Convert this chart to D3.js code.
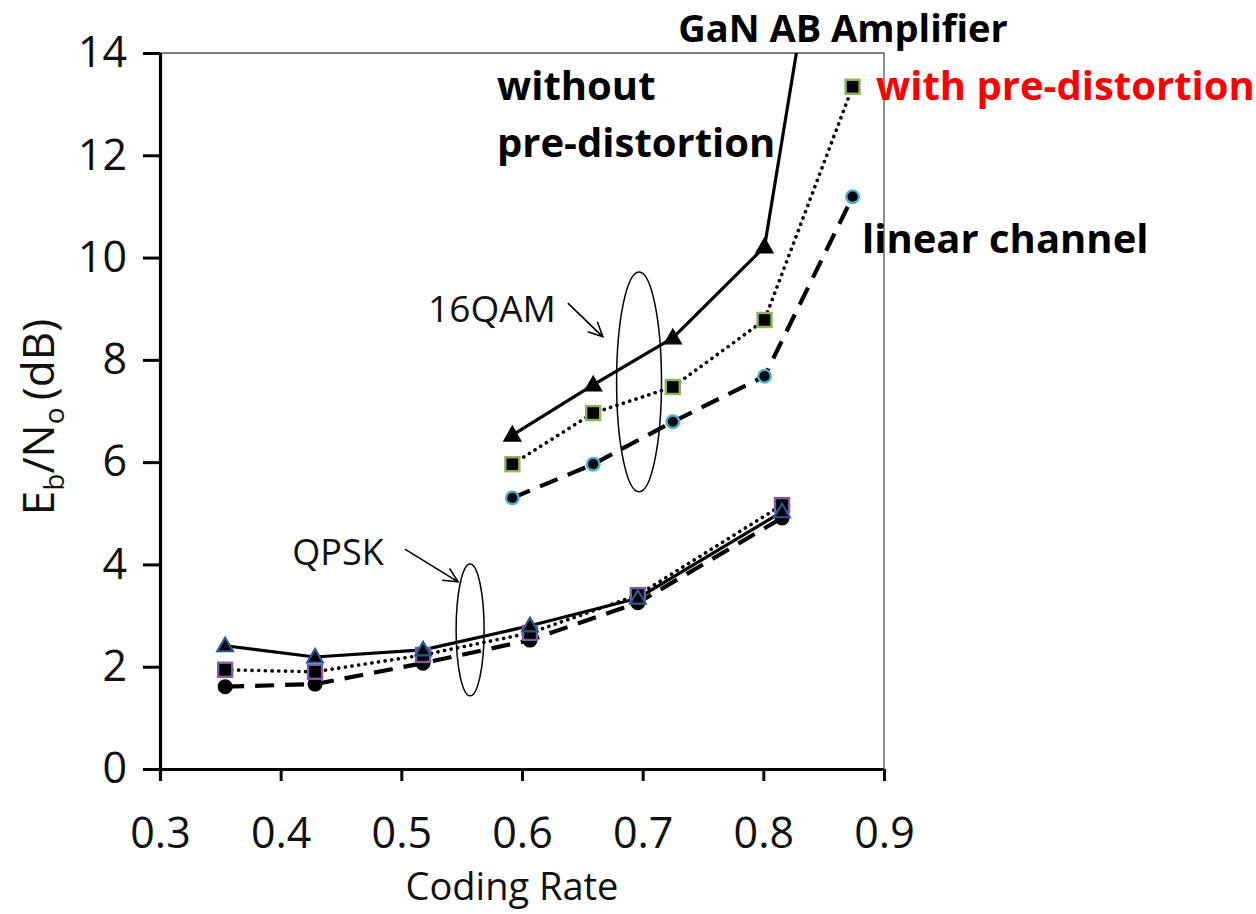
<!DOCTYPE html>
<html><head><meta charset="utf-8">
<script src="https://cdn.jsdelivr.net/npm/d3@7"></script>
<style>body{margin:0;background:#fff}svg{display:block}</style></head>
<body>
<svg id="c" width="1256" height="914"></svg>
<script>
// ---- data ----
const qamRate = [0.592, 0.659, 0.725, 0.801, 0.874];
const qamWithout = [6.53, 7.51, 8.43, 10.21, 20.7];
const qamWith = [5.96, 6.96, 7.47, 8.78, 13.34];
const qamLinear = [5.30, 5.96, 6.79, 7.68, 11.19];
const qpskRate = [0.354, 0.4285, 0.518, 0.6066, 0.696, 0.8155];
const qpskWithout = [2.41, 2.19, 2.33, 2.80, 3.34, 5.03];
const qpskWith = [1.94, 1.90, 2.23, 2.66, 3.40, 5.16];
const qpskLinear = [1.61, 1.66, 2.07, 2.52, 3.25, 4.91];
const xTicks = [0.3, 0.4, 0.5, 0.6, 0.7, 0.8, 0.9];
const yTicks = [0, 2, 4, 6, 8, 10, 12, 14];

const FONT = "'Open Sans', 'Liberation Sans', sans-serif";
const svg = d3.select("#c");
const L = 160, R = 884, T = 53, B = 769;
const x = d3.scaleLinear().domain([0.3, 0.9]).range([L, R]);
const y = d3.scaleLinear().domain([0, 14]).range([B, T]);

svg.append("defs").append("clipPath").attr("id", "clip")
  .append("rect").attr("x", L).attr("y", T).attr("width", R - L).attr("height", B - T);

// frame (thin top/right)
svg.append("path").attr("d", `M${L},${T}H${R}V${B}`).attr("fill", "none")
  .attr("stroke", "#555").attr("stroke-width", 1.3);

// axes
const gx = svg.append("g").attr("transform", `translate(0,${B})`)
  .call(d3.axisBottom(x).tickValues(xTicks).tickSize(12).tickPadding(36).tickFormat(d3.format(".1f")));
const gy = svg.append("g").attr("transform", `translate(${L},0)`)
  .call(d3.axisLeft(y).tickValues(yTicks).tickSize(17).tickPadding(16).tickFormat(d3.format("d")));
[gx, gy].forEach(g => {
  g.select(".domain").attr("stroke", "#000").attr("stroke-width", 3.2);
  g.selectAll(".tick line").attr("stroke", "#000").attr("stroke-width", 3);
  g.selectAll(".tick text").attr("font-family", FONT).attr("font-size", 43).attr("fill", "#111");
});
gx.select(".domain").attr("d", `M${L - 17},0.5H${R}`);
gy.select(".domain").attr("d", `M0.5,${B + 12}V${T}`);

// axis titles
svg.append("text").attr("x", 512).attr("y", 900).attr("text-anchor", "middle")
  .attr("font-family", FONT).attr("font-size", 38).attr("fill", "#111").text("Coding Rate");
const yt = svg.append("text").attr("transform", "translate(54,417) rotate(-90)")
  .attr("text-anchor", "middle").attr("font-family", FONT).attr("font-size", 44).attr("fill", "#111");
yt.append("tspan").text("E");
yt.append("tspan").attr("font-size", 28).attr("dy", 10).text("b");
yt.append("tspan").attr("dy", -10).text("/N");
yt.append("tspan").attr("font-size", 28).attr("dy", 10).text("o");
yt.append("tspan").attr("dy", -10).text("\u2009(dB)");

// series
const plot = svg.append("g").attr("clip-path", "url(#clip)");
const styles = {
  without: { dash: null, width: 3.2, cap: "butt" },
  with: { dash: "0.1,6.6", width: 3.6, cap: "round" },
  linear: { dash: "19,11", width: 4.2, cap: "butt" }
};
function drawLine(rates, vals, st) {
  const data = rates.map((r, i) => [r, vals[i]]);
  plot.append("path").datum(data)
    .attr("d", d3.line().x(d => x(d[0])).y(d => y(d[1])))
    .attr("fill", "none").attr("stroke", "#000")
    .attr("stroke-width", st.width).attr("stroke-dasharray", st.dash)
    .attr("stroke-linecap", st.cap).attr("stroke-linejoin", "round");
  return data;
}
function markers(data, type, stroke) {
  const g = plot.append("g");
  data.forEach(d => {
    const cx = x(d[0]), cy = y(d[1]);
    if (type === "tri") {
      g.append("path").attr("d", d3.symbol(d3.symbolTriangle, 105)())
        .attr("transform", `translate(${cx},${cy + 1})`)
        .attr("fill", "#000").attr("stroke", stroke).attr("stroke-width", 2.2);
    } else if (type === "sq") {
      g.append("rect").attr("x", cx - 7).attr("y", cy - 7).attr("width", 14).attr("height", 14)
        .attr("fill", "#000").attr("stroke", stroke).attr("stroke-width", 2.4);
    } else {
      g.append("circle").attr("cx", cx).attr("cy", cy).attr("r", 6.3)
        .attr("fill", "#000").attr("stroke", stroke).attr("stroke-width", 2.4);
    }
  });
}
// QPSK
const qpL = drawLine(qpskRate, qpskLinear, styles.linear);
const qpW = drawLine(qpskRate, qpskWith, styles.with);
const qpN = drawLine(qpskRate, qpskWithout, styles.without);
markers(qpL, "circ", "#000");
markers(qpW, "sq", "#7d5ea3");
markers(qpN, "tri", "#2a5790");
// 16QAM
const qaL = drawLine(qamRate, qamLinear, styles.linear);
const qaW = drawLine(qamRate, qamWith, styles.with);
const qaN = drawLine(qamRate, qamWithout, styles.without);
markers(qaL, "circ", "#4ab0cf");
markers(qaW, "sq", "#8fb55a");
markers(qaN, "tri", "#000");

// annotation ellipses
function ellipse(cxv, cyv, rxv, ryv) {
  svg.append("ellipse").attr("cx", x(cxv)).attr("cy", y(cyv))
    .attr("rx", x(0.3 + rxv) - x(0.3)).attr("ry", y(0) - y(ryv))
    .attr("fill", "none").attr("stroke", "#000").attr("stroke-width", 1.5);
}
ellipse(0.697, 7.57, 0.0186, 2.15);
ellipse(0.557, 2.72, 0.0116, 1.29);

// arrows (open V head)
function arrow(x1, y1, x2, y2) {
  const X1 = x(x1), Y1 = y(y1), X2 = x(x2), Y2 = y(y2);
  const a = Math.atan2(Y2 - Y1, X2 - X1), h = 16, s = 0.45;
  svg.append("path")
    .attr("d", `M${X1},${Y1}L${X2},${Y2}M${X2 - h * Math.cos(a - s)},${Y2 - h * Math.sin(a - s)}L${X2},${Y2}L${X2 - h * Math.cos(a + s)},${Y2 - h * Math.sin(a + s)}`)
    .attr("fill", "none").attr("stroke", "#000").attr("stroke-width", 1.6);
}
arrow(0.638, 9.11, 0.667, 8.45);
arrow(0.503, 4.30, 0.547, 3.66);

function label(px, py, txt, size, weight, color, anchor) {
  svg.append("text").attr("x", px).attr("y", py).attr("text-anchor", anchor || "start")
    .attr("font-family", FONT).attr("font-size", size).attr("font-weight", weight)
    .attr("fill", color).text(txt);
}
label(492, 322, "16QAM", 37, 400, "#111", "middle");
label(338, 565, "QPSK", 36, 400, "#111", "middle");
label(843, 42, "GaN AB Amplifier", 38, 700, "#000", "middle");
label(497, 100, "without", 40, 700, "#000");
label(497, 157, "pre-distortion", 40, 700, "#000");
label(876, 100, "with pre-distortion", 40, 700, "#ff0000");
label(862, 253, "linear channel", 40, 700, "#000");
</script>
</body></html>
